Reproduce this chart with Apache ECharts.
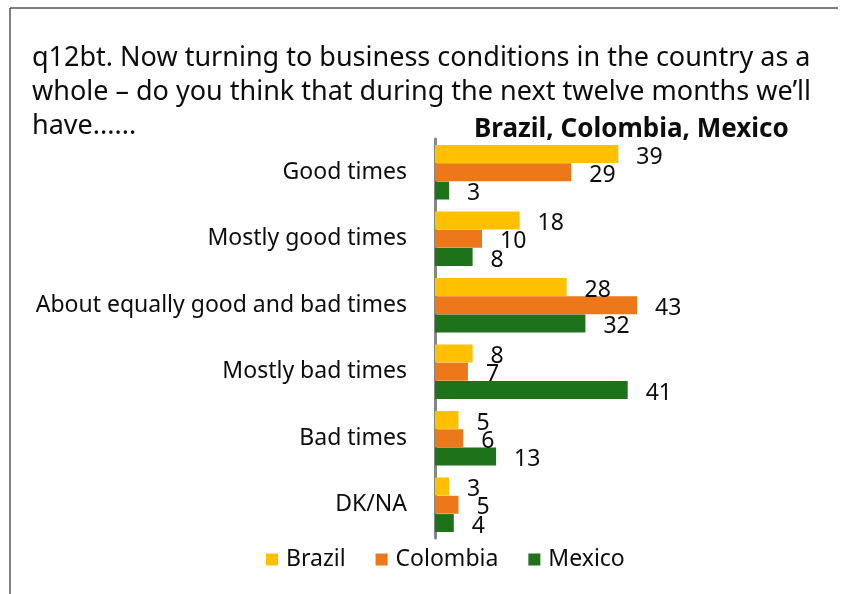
<!DOCTYPE html>
<html><head><meta charset="utf-8">
<script src="https://cdn.jsdelivr.net/npm/echarts@6/dist/echarts.min.js"></script>
<style>html,body{margin:0;padding:0;background:#fff}#c{width:849px;height:594px}</style>
</head><body><div id="c"></div>
<script>
const categories = ["Good times","Mostly good times","About equally good and bad times","Mostly bad times","Bad times","DK/NA"];
const seriesNames = ["Brazil","Colombia","Mexico"];
const brazil = [39,18,28,8,5,3];
const colombia = [29,10,43,7,6,5];
const mexico = [3,8,32,41,13,4];
const colors = ["#FFC000","#ED7819","#1E7219"];
const FONT = "'Noto Sans', 'Open Sans', sans-serif";
const chart = echarts.init(document.getElementById('c'));
const mk = (name, data, i) => ({
  name, type:'bar', data, barGap:'2%', barCategoryGap:'18%',
  itemStyle:{color:colors[i]},
  label:{show:true, position:'right', distance:18, offset:[0,3], color:'#0d0d0d', fontSize:23, fontFamily:FONT},
  emphasis:{disabled:true}, animation:false
});
chart.setOption({
  animation:false,
  title:[
    {text:"q12bt. Now turning to business conditions in the country as a\nwhole – do you think that during the next twelve months we’ll\nhave......", left:27, top:36,
     textStyle:{fontFamily:FONT, fontSize:27, fontWeight:'normal', color:'#0d0d0d', lineHeight:34}},
    {text:"Brazil, Colombia, Mexico", left:469, top:112,
     textStyle:{fontFamily:FONT, fontSize:26, fontWeight:'bold', color:'#0d0d0d'}}
  ],
  graphic:[
    {type:'line', shape:{x1:10,y1:8,x2:838,y2:8}, style:{stroke:'#000',lineWidth:1}},
    {type:'line', shape:{x1:10,y1:8,x2:10,y2:594}, style:{stroke:'#000',lineWidth:1}}
  ],
  legend:{data:seriesNames, left:261, top:543, itemWidth:12, itemHeight:12, itemGap:30,
    icon:'rect', textStyle:{fontFamily:FONT, fontSize:23, color:'#0d0d0d', padding:[0,0,0,3]}},
  grid:{left:435, top:139, width:235, height:399},
  xAxis:{type:'value', min:0, max:50, show:false},
  yAxis:{type:'category', data:categories, inverse:true,
    axisLine:{show:true, lineStyle:{color:'#868686', width:3}},
    axisTick:{show:false},
    axisLabel:{fontFamily:FONT, fontSize:23, color:'#0d0d0d', margin:28}},
  series:[mk("Brazil",brazil,0), mk("Colombia",colombia,1), mk("Mexico",mexico,2)]
});
</script></body></html>
